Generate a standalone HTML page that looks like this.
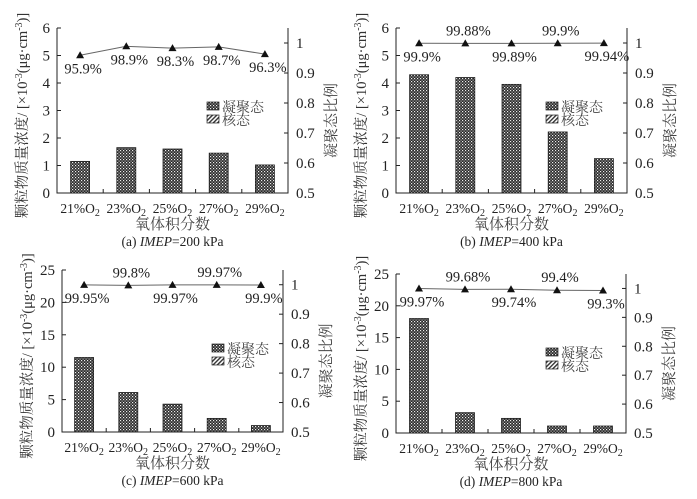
<!DOCTYPE html>
<html><head><meta charset="utf-8">
<style>
body{margin:0;background:#fff;}
svg{display:block;font-family:"Liberation Serif","Noto Serif CJK SC",serif;}
.cj{font-family:"Liberation Serif","Noto Serif CJK SC",serif;}
</style></head>
<body>
<svg id="chart" width="697" height="499" viewBox="0 0 697 499" xmlns="http://www.w3.org/2000/svg">
<defs>
<pattern id="cross" width="3" height="3" patternUnits="userSpaceOnUse">
<rect width="3" height="3" fill="#2a2a2a"/><rect x="0" y="0" width="1.2" height="1.2" fill="#eee"/><rect x="1.5" y="1.5" width="1.2" height="1.2" fill="#bbb"/>
</pattern>
<pattern id="diag" width="3" height="3" patternUnits="userSpaceOnUse" patternTransform="rotate(45)">
<rect width="3" height="3" fill="#fff"/><rect width="1.4" height="3" fill="#333"/>
</pattern>
</defs>
</svg>
<script>
const categories = ["21%O2","23%O2","25%O2","27%O2","29%O2"];
const barsA = [1.15, 1.65, 1.6, 1.45, 1.02];
const barsB = [4.3, 4.2, 3.95, 2.22, 1.25];
const barsC = [11.5, 6.1, 4.3, 2.1, 1.0];
const barsD = [18, 3.2, 2.3, 1.1, 1.1];
const ratioA = [95.9, 98.9, 98.3, 98.7, 96.3];
const ratioB = [99.9, 99.88, 99.89, 99.9, 99.94];
const ratioC = [99.95, 99.8, 99.97, 99.97, 99.9];
const ratioD = [99.97, 99.68, 99.74, 99.4, 99.3];
const ratioLabelsA = ["95.9%","98.9%","98.3%","98.7%","96.3%"];
const ratioLabelsB = ["99.9%","99.88%","99.89%","99.9%","99.94%"];
const ratioLabelsC = ["99.95%","99.8%","99.97%","99.97%","99.9%"];
const ratioLabelsD = ["99.97%","99.68%","99.74%","99.4%","99.3%"];
const yTicksA = [0,1,2,3,4,5,6];
const yTicksB = [0,1,2,3,4,5,6];
const yTicksC = [0,5,10,15,20,25];
const yTicksD = [0,5,10,15,20,25];
const rTicks = [0.5,0.6,0.7,0.8,0.9,1];
const rTickLabels = ["0.5","0.6","0.7","0.8","0.9","1"];

const svg = document.getElementById('chart');
const NS = 'http://www.w3.org/2000/svg';
function mk(tag, attrs, parent){const e=document.createElementNS(NS,tag);for(const k in attrs)e.setAttribute(k,attrs[k]);(parent||svg).appendChild(e);return e;}

function panel(id, x0, x1, yT, yB, ymax, yTicks, bars, ratio, rlabels, above, caption){
  const g = mk('g',{});
  
  
  const yS = v => yB - v/ymax*(yB-yT);
  const rS = v => yB - (v-0.5)/0.55*(yB-yT);
  const bw = (x1-x0)/categories.length;
  const xC = i => x0 + bw*(i+0.5);
  bars.forEach((v,i)=>{
    const r = mk('rect',{x:xC(i)-9.5,y:yS(v),width:19,height:yB-yS(v),fill:'url(#cross)',stroke:'#222','stroke-width':0.8},g);
    
    
  });
  const ax = mk('path',{d:`M${x0},${yT}V${yB}H${x1}V${yT}`,fill:'none',stroke:'#222','stroke-width':1},g);
  
  
  yTicks.forEach(t=>{
    mk('line',{x1:x0,x2:x0+4,y1:yS(t),y2:yS(t),stroke:'#222'},g);
    const tx = mk('text',{x:x0-7,y:yS(t)+5,'text-anchor':'end','font-size':15,fill:'#222'},g);
    tx.textContent = t;
    
    
  });
  rTicks.forEach((t,k)=>{
    mk('line',{x1:x1,x2:x1-4,y1:rS(t),y2:rS(t),stroke:'#222'},g);
    const tx = mk('text',{x:x1+8,y:rS(t)+5,'font-size':15,fill:'#222'},g);
    tx.textContent = rTickLabels[k];
    
    
  });
  categories.forEach((c,i)=>{
    if(i>0) mk('line',{x1:x0+bw*i,x2:x0+bw*i,y1:yB,y2:yB-4,stroke:'#222'},g);
    const tx = mk('text',{x:xC(i),y:yB+20,'text-anchor':'middle','font-size':13.5,fill:'#222'},g);
    tx.innerHTML = c.replace('O2','O<tspan font-size="10" dy="3">2</tspan>');
    
    
  });
  const pts = ratio.map((v,i)=>xC(i)+','+rS(v/100)).join(' ');
  const pl = mk('polyline',{points:pts,fill:'none',stroke:'#666','stroke-width':1},g);
  
  
  ratio.forEach((v,i)=>{
    const x=xC(i), y=rS(v/100);
    const m = mk('path',{d:`M${x-4},${y+3}L${x},${y-4}L${x+4},${y+3}Z`,fill:'#111'},g);
    
    
    const up = above[i];
    const tx = mk('text',{x:x+3,y:up? y-8 : y+18,'text-anchor':'middle','font-size':14.5,fill:'#222'},g);
    tx.textContent = rlabels[i];
    
    
  });
  const lx = x0+150, ly = yT+74;
  const l1 = mk('rect',{x:lx,y:ly,width:12,height:8,fill:'url(#cross)',stroke:'#222','stroke-width':0.7},g);
  
  
  const t1 = mk('text',{x:lx+15,y:ly+10,'font-size':14,fill:'#444',class:'cj'},g);
  t1.textContent = '凝聚态';
  
  
  const l2 = mk('rect',{x:lx,y:ly+13,width:12,height:8,fill:'url(#diag)',stroke:'#222','stroke-width':0.7},g);
  
  
  const t2 = mk('text',{x:lx+15,y:ly+23,'font-size':14,fill:'#444',class:'cj'},g);
  t2.textContent = '核态';
  
  
  const yc = (yT+yB)/2 + 5;
  const lt = mk('text',{x:0,y:0,'text-anchor':'middle','font-size':14.5,fill:'#333',class:'cj',transform:`translate(${x0-30},${yc}) rotate(-90)`},g);
  lt.innerHTML = '颗粒物质量浓度/ [×10<tspan font-size="10" dy="-5">-3</tspan><tspan dy="5">(μg·cm</tspan><tspan font-size="10" dy="-5">-3</tspan><tspan dy="5">)]</tspan>';
  
  
  const rt = mk('text',{x:0,y:0,'text-anchor':'middle','font-size':15,fill:'#444',class:'cj',transform:`translate(${x1+48},${yc+5}) rotate(-90)`},g);
  rt.textContent = '凝聚态比例';
  
  
  const xt = mk('text',{x:(x0+x1)/2,y:yB+36,'text-anchor':'middle','font-size':15,fill:'#444',class:'cj'},g);
  xt.textContent = '氧体积分数';
  
  
  const cp = mk('text',{x:(x0+x1)/2,y:yB+53,'text-anchor':'middle','font-size':13.5,fill:'#222'},g);
  cp.innerHTML = caption;
  
  
}
panel('a',57,288,28,193,6,yTicksA,barsA,ratioA,ratioLabelsA,[0,0,0,0,0],'(a) <tspan font-style="italic">IMEP</tspan>=200 kPa');
panel('b',396,627,28,193,6,yTicksB,barsB,ratioB,ratioLabelsB,[0,1,0,1,0],'(b) <tspan font-style="italic">IMEP</tspan>=400 kPa');
panel('c',62,283,270,432,25,yTicksC,barsC,ratioC,ratioLabelsC,[0,1,0,1,0],'(c) <tspan font-style="italic">IMEP</tspan>=600 kPa');
panel('d',396,626,274,433,25,yTicksD,barsD,ratioD,ratioLabelsD,[0,1,0,1,0],'(d) <tspan font-style="italic">IMEP</tspan>=800 kPa');
</script>
</body></html>
